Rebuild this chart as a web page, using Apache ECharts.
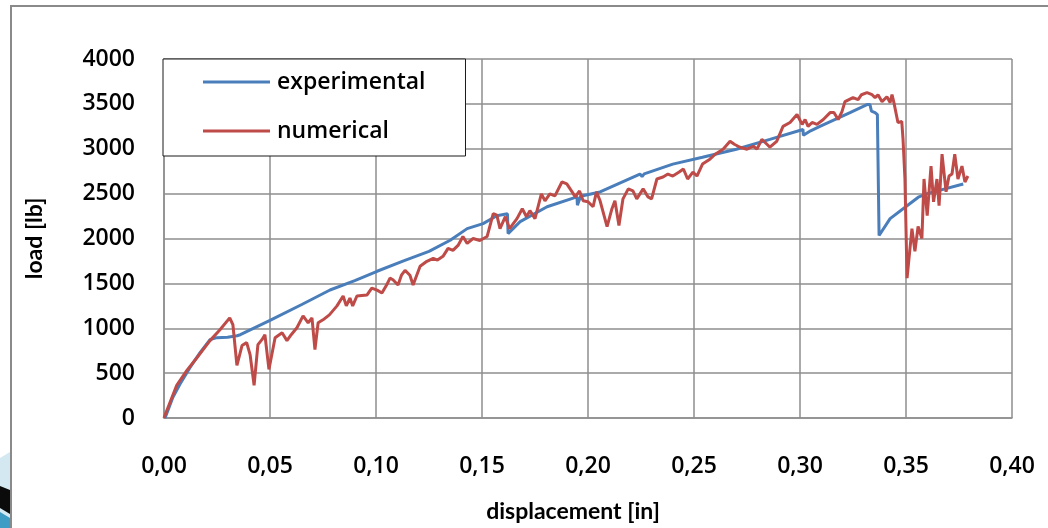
<!DOCTYPE html>
<html>
<head>
<meta charset="utf-8">
<script src="https://cdn.jsdelivr.net/npm/echarts@6/dist/echarts.min.js"></script>
<style>
  html, body { margin: 0; padding: 0; background: #ffffff; }
  #chart { width: 1048px; height: 528px; }
</style>
</head>
<body>
<div id="chart"></div>
<script>
// Load–displacement curves: test measurement vs. simulation
const seriesNames = ['experimental', 'numerical'];

const expX = [0.0005, 0.0042, 0.0075, 0.0123, 0.017, 0.0217, 0.025, 0.030, 0.0344, 0.036, 0.05, 0.065,
  0.0783, 0.09, 0.1005, 0.113, 0.125, 0.135, 0.143, 0.1505, 0.157, 0.162, 0.1623, 0.163, 0.168, 0.1807,
  0.1948, 0.195, 0.1965, 0.2057, 0.2245, 0.2255, 0.2265, 0.240, 0.254, 0.270, 0.2858, 0.3014, 0.3016,
  0.305, 0.3094, 0.3236, 0.3316, 0.333, 0.3337, 0.3354, 0.3365, 0.3373, 0.3425, 0.3505, 0.3558, 0.360, 0.377];
const expY = [0, 232, 376, 563, 729, 873, 895, 900, 917, 928, 1087, 1265,
  1426, 1530, 1635, 1750, 1856, 1980, 2110, 2166, 2254, 2276, 2055, 2060, 2188, 2354,
  2464, 2370, 2470, 2519, 2718, 2690, 2720, 2829, 2906, 2995, 3105, 3215, 3150,
  3200, 3249, 3403, 3492, 3492, 3420, 3403, 3380, 2033, 2221, 2365, 2460, 2500, 2608];

const numX = [0, 0.0005, 0.006, 0.0108, 0.0156, 0.0217, 0.0264, 0.031, 0.0325, 0.0344, 0.0368, 0.039,
  0.0406, 0.0425, 0.0443, 0.0462, 0.0476, 0.0495, 0.0524, 0.0557, 0.058, 0.060, 0.0627, 0.0656, 0.068,
  0.0698, 0.0712, 0.0727, 0.075, 0.078, 0.0816, 0.0845, 0.086, 0.0877, 0.089, 0.091, 0.0957, 0.098,
  0.1005, 0.1028, 0.105, 0.1066, 0.108, 0.1104, 0.112, 0.1137, 0.116, 0.1175, 0.1208, 0.124, 0.127,
  0.129, 0.1316, 0.134, 0.1363, 0.1387, 0.141, 0.143, 0.1458, 0.149, 0.1524, 0.1553, 0.157, 0.1585,
  0.161, 0.163, 0.1665, 0.169, 0.171, 0.1726, 0.175, 0.178, 0.1797, 0.182, 0.1844, 0.1877, 0.190,
  0.1925, 0.194, 0.196, 0.1977, 0.200, 0.2024, 0.204, 0.2057, 0.209, 0.2113, 0.2127, 0.2146, 0.2165,
  0.219, 0.2212, 0.223, 0.226, 0.2283, 0.230, 0.2325, 0.2354, 0.2377, 0.240, 0.243, 0.245, 0.247,
  0.2495, 0.2514, 0.254, 0.2575, 0.260, 0.2637, 0.267, 0.269, 0.2717, 0.275, 0.278, 0.2797, 0.282,
  0.2844, 0.2858, 0.289, 0.292, 0.2953, 0.2986, 0.301, 0.3024, 0.3038, 0.3057, 0.308, 0.311, 0.3142,
  0.316, 0.318, 0.3198, 0.3212, 0.325, 0.3274, 0.329, 0.3316, 0.334, 0.3354, 0.3368, 0.3387, 0.341,
  0.3425, 0.3434, 0.3443, 0.3462, 0.348, 0.3486, 0.3495, 0.3505, 0.3528, 0.3542, 0.3557, 0.3575,
  0.3585, 0.360, 0.3618, 0.363, 0.3646, 0.3656, 0.367, 0.3689, 0.3703, 0.3717, 0.373, 0.3745, 0.3764,
  0.3778, 0.3792];
const numY = [0, 33, 365, 530, 674, 862, 983, 1116, 1039, 586, 807, 840,
  707, 365, 818, 873, 928, 541, 895, 950, 862, 928, 1006, 1138, 1061,
  1116, 762, 1061, 1094, 1149, 1249, 1359, 1249, 1337, 1249, 1359, 1370, 1448,
  1425, 1392, 1481, 1558, 1540, 1481, 1591, 1646, 1591, 1481, 1690, 1746, 1779,
  1760, 1801, 1890, 1868, 1923, 2022, 1945, 2000, 1978, 2022, 2276, 2260, 2110,
  2243, 2110, 2221, 2332, 2243, 2310, 2221, 2497, 2420, 2497, 2475, 2630, 2608,
  2519, 2464, 2530, 2420, 2409, 2354, 2519, 2420, 2133, 2332, 2420, 2144, 2442,
  2553, 2530, 2442, 2553, 2464, 2442, 2663, 2685, 2718, 2696, 2740, 2774, 2663,
  2740, 2696, 2829, 2884, 2939, 2995, 3083, 3050, 3017, 2995, 3028, 2995, 3105,
  3050, 3017, 3083, 3249, 3293, 3381, 3271, 3326, 3249, 3293, 3271, 3326, 3403,
  3403, 3326, 3414, 3525, 3570, 3547, 3602, 3625, 3602, 3570, 3602, 3525, 3580,
  3514, 3602, 3514, 3293, 3304, 3105, 2663, 1558, 2110, 1856, 2133, 2000,
  2663, 2254, 2807, 2409, 2663, 2365, 2940, 2520, 2696, 2718, 2940, 2663, 2807,
  2630, 2696];

const xTicks = { min: 0, max: 0.4, step: 0.05 };
const yTicks = { min: 0, max: 4000, step: 500 };

const zip = (xs, ys) => xs.map((x, i) => [x, ys[i]]);

const FONT = '"Open Sans", Lato, sans-serif';
const NAME_FONT = 'Lato, "Open Sans", sans-serif';
const GRID_COLOR = '#8e8e8e';

const chart = echarts.init(document.getElementById('chart'), null, { renderer: 'canvas' });

chart.setOption({
  animation: false,
  backgroundColor: '#ffffff',
  textStyle: { fontFamily: FONT, color: '#000' },
  grid: { left: 164, right: 36, top: 59, bottom: 107, containLabel: false },
  legend: {
    left: 163,
    top: 59,
    orient: 'vertical',
    backgroundColor: '#ffffff',
    borderColor: '#1a1a1a',
    borderWidth: 1,
    borderRadius: 0,
    padding: [11, 40, 13, 40],
    itemGap: 25,
    itemWidth: 67,
    itemHeight: 3,
    icon: 'rect',
    textStyle: { fontFamily: FONT, fontSize: 23, fontWeight: 600, color: '#000', lineHeight: 24, padding: [0, 0, 0, 2] },
    data: seriesNames
  },
  xAxis: {
    type: 'value',
    min: xTicks.min,
    max: xTicks.max,
    interval: xTicks.step,
    name: 'displacement [in]',
    nameLocation: 'middle',
    nameGap: 82,
    nameTextStyle: { fontFamily: NAME_FONT, fontSize: 23, fontWeight: 'bold', color: '#000', padding: [0, 30, 0, 0] },
    axisLine: { show: true, lineStyle: { color: GRID_COLOR, width: 1.5 } },
    axisTick: { show: false },
    axisLabel: {
      margin: 37,
      fontFamily: FONT,
      fontSize: 23,
      fontWeight: 600,
      color: '#000',
      formatter: v => v.toFixed(2).replace('.', ',')
    },
    splitLine: { show: true, lineStyle: { color: GRID_COLOR, width: 1.5 } }
  },
  yAxis: {
    type: 'value',
    min: yTicks.min,
    max: yTicks.max,
    interval: yTicks.step,
    name: 'load [lb]',
    nameLocation: 'middle',
    nameRotate: 90,
    nameGap: 118,
    nameTextStyle: { fontFamily: NAME_FONT, fontSize: 23, fontWeight: 'bold', color: '#000' },
    axisLine: { show: true, lineStyle: { color: GRID_COLOR, width: 1.5 } },
    axisTick: { show: false },
    axisLabel: {
      margin: 29,
      fontFamily: FONT,
      fontSize: 23,
      fontWeight: 600,
      color: '#000',
      formatter: v => String(v)
    },
    splitLine: { show: true, lineStyle: { color: GRID_COLOR, width: 1.5 } }
  },
  series: [
    {
      name: seriesNames[0],
      type: 'line',
      data: zip(expX, expY),
      showSymbol: false,
      color: '#4a7ebb',
      lineStyle: { color: '#4a7ebb', width: 3 },
      z: 2
    },
    {
      name: seriesNames[1],
      type: 'line',
      data: zip(numX, numY),
      showSymbol: false,
      color: '#be4b48',
      lineStyle: { color: '#be4b48', width: 3 },
      z: 3
    }
  ],
  graphic: [
    // chart frame
    {
      type: 'rect',
      shape: { x: 11, y: 6, width: 1100, height: 600 },
      style: { fill: null, stroke: '#8a8a8a', lineWidth: 2 },
      silent: true
    },
    // slide decoration peeking in at the lower-left corner
    {
      type: 'polygon',
      shape: { points: [[0, 458], [10, 452], [10, 528], [0, 528]] },
      style: { fill: '#d3e8f0' },
      silent: true
    },
    {
      type: 'polygon',
      shape: { points: [[0, 486], [10, 490], [10, 514], [0, 508]] },
      style: { fill: '#0b0b0b' },
      silent: true
    },
    {
      type: 'polygon',
      shape: { points: [[0, 512], [10, 518], [10, 528], [0, 528]] },
      style: { fill: '#3f9cc4' },
      silent: true
    }
  ]
});
</script>
</body>
</html>
